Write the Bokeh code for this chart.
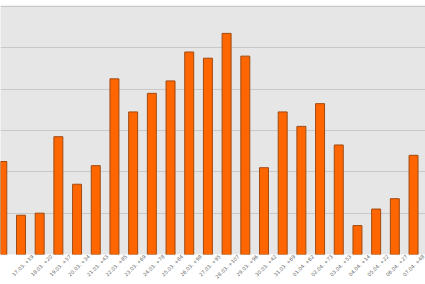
import math
from bokeh.plotting import figure
from bokeh.models import Range1d, ColumnDataSource, FixedTicker, SingleIntervalTicker
from bokeh.embed import file_html
from bokeh.resources import INLINE

dates = ["16.03.", "17.03.", "18.03.", "19.03.", "20.03.", "21.03.", "22.03.", "23.03.",
         "24.03.", "25.03.", "26.03.", "27.03.", "28.03.", "29.03.", "30.03.", "31.03.",
         "01.04.", "02.04.", "03.04.", "04.04.", "05.04.", "06.04.", "07.04."]
values = [45, 19, 20, 57, 34, 43, 85, 69, 78, 84, 98, 95, 107, 96, 42, 69,
          62, 73, 53, 14, 22, 27, 48]

labels = [f"{d} +{v}" for d, v in zip(dates, values)]
xs = list(range(len(values)))

src = ColumnDataSource(dict(x=xs, top=values))

p = figure(width=425, height=284, output_backend="svg", toolbar_location=None,
           x_range=Range1d(-0.096, 22.64), y_range=Range1d(0, 120.5),
           min_border_left=0, min_border_right=0, min_border_top=5, min_border_bottom=0)
p.background_fill_color = "#e6e6e6"
p.border_fill_color = "white"
p.outline_line_color = None

p.vbar(x="x", top="top", width=0.48, bottom=0, source=src,
       fill_color="#ff6600", line_color="#a04a10", line_width=1)

p.yaxis.visible = False
p.ygrid.ticker = SingleIntervalTicker(interval=20)
p.ygrid.grid_line_color = "#c8c8c8"
p.ygrid.grid_line_width = 1
p.xgrid.grid_line_color = None

# rotated labels are centred under their bars: the label's end sits a bit right of the bar
shift = 0.625
tick_pos = [i + shift for i in xs[1:]]
p.xaxis.ticker = FixedTicker(ticks=tick_pos)
p.xaxis.major_label_overrides = {i + shift: l for i, l in zip(xs, labels)}
p.xaxis.major_label_orientation = math.pi / 4
p.xaxis.major_label_text_font_size = "5px"
p.xaxis.major_label_text_color = "#666666"
p.xaxis.major_label_text_font = "DejaVu Sans"
p.xaxis.axis_line_color = None
p.xaxis.major_tick_line_color = None
p.xaxis.minor_tick_line_color = None
p.xaxis.major_tick_out = 0
p.xaxis.major_tick_in = 0
p.xaxis.major_label_standoff = 1

open("out.html", "w").write(file_html(p, INLINE))
